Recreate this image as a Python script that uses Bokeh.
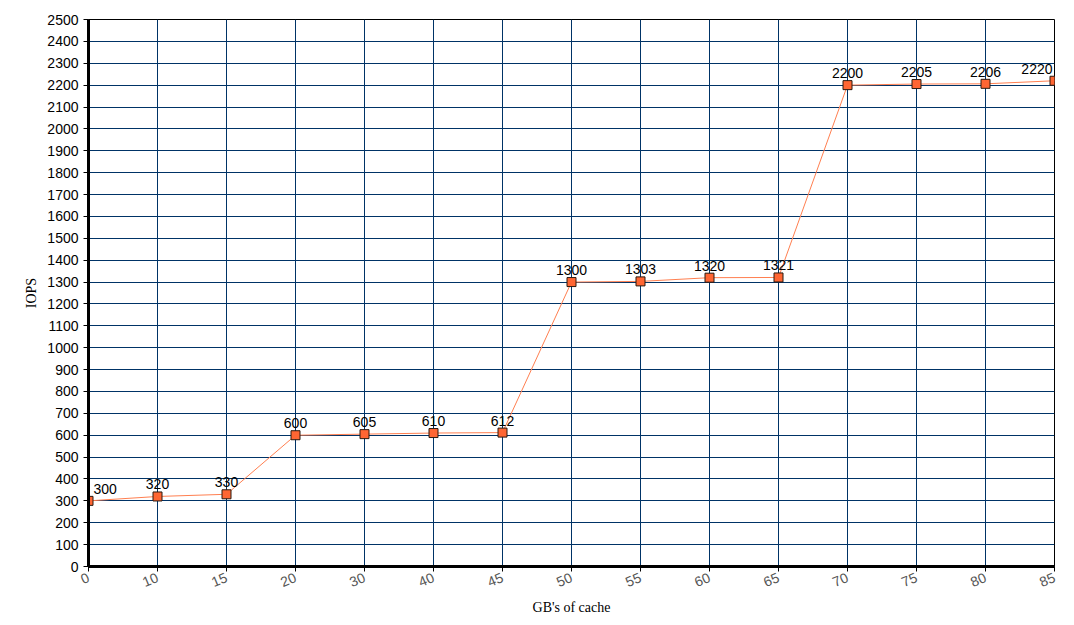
from bokeh.plotting import figure
from bokeh.models import ColumnDataSource, FixedTicker, Range1d
from bokeh.core.properties import value
from bokeh.embed import file_html
from bokeh.resources import INLINE

cache_gb = ["0", "10", "15", "20", "30", "40", "45", "50", "55", "60", "65", "70", "75", "80", "85"]
iops = [300, 320, 330, 600, 605, 610, 612, 1300, 1303, 1320, 1321, 2200, 2205, 2206, 2220]
y_ticks = list(range(0, 2501, 100))

n = len(cache_gb)
xs = list(range(n))
aligns = ["left" if i == 0 else ("right" if i == n - 1 else "center") for i in xs]
xoffs = [5 if i == 0 else (-2 if i == n - 1 else 0) for i in xs]
src = ColumnDataSource(dict(x=xs, y=iops, label=[str(v) for v in iops], align=aligns, xo=xoffs))

p = figure(frame_width=966, frame_height=547, output_backend="svg", toolbar_location=None,
           x_range=Range1d(0, n - 1), y_range=Range1d(0, 2500),
           min_border_left=88, min_border_right=12, min_border_top=19, min_border_bottom=51)

p.background_fill_color = "white"
p.outline_line_color = "black"
p.outline_line_width = 1

p.xgrid.ticker = FixedTicker(ticks=xs)
p.xaxis.ticker = FixedTicker(ticks=xs)
p.xaxis.major_label_overrides = {i: s for i, s in enumerate(cache_gb)}
p.yaxis.ticker = FixedTicker(ticks=y_ticks)
p.ygrid.ticker = FixedTicker(ticks=y_ticks)

for g in (p.xgrid, p.ygrid):
    g.grid_line_color = "#003366"
    g.grid_line_alpha = 1
    g.grid_line_width = 1

for ax in (p.xaxis, p.yaxis):
    ax.axis_line_color = "black"
    ax.axis_line_width = 3
    ax.major_tick_line_color = "black"
    ax.major_tick_out = 5
    ax.major_tick_in = 0
    ax.minor_tick_line_color = None
    ax.axis_label_text_font = "Liberation Serif"
    ax.axis_label_text_font_style = "normal"
    ax.axis_label_text_font_size = "14px"
    ax.axis_label_text_color = "black"

p.yaxis.major_label_text_font = "Liberation Sans"
p.yaxis.major_label_text_font_size = "14px"
p.yaxis.major_label_text_color = "black"
p.xaxis.major_label_text_font = "Liberation Sans"
p.xaxis.major_label_text_font_size = "14px"
p.xaxis.major_label_text_color = "#555555"
p.xaxis.major_label_orientation = 0.4

p.xaxis.axis_label = "GB's of cache"
p.yaxis.axis_label = "IOPS"

p.line("x", "y", source=src, line_color="#FF7F50", line_width=1)
p.scatter("x", "y", source=src, marker="square", size=9, fill_color="#FF6633",
          line_color="#2a1a10", line_width=1)
p.text("x", "y", text="label", source=src, text_align="align", x_offset="xo", y_offset=-7,
       text_baseline="bottom", text_font=value("Liberation Sans"), text_font_size="14px",
       text_color="black")

open("out.html", "w").write(file_html(p, INLINE))
